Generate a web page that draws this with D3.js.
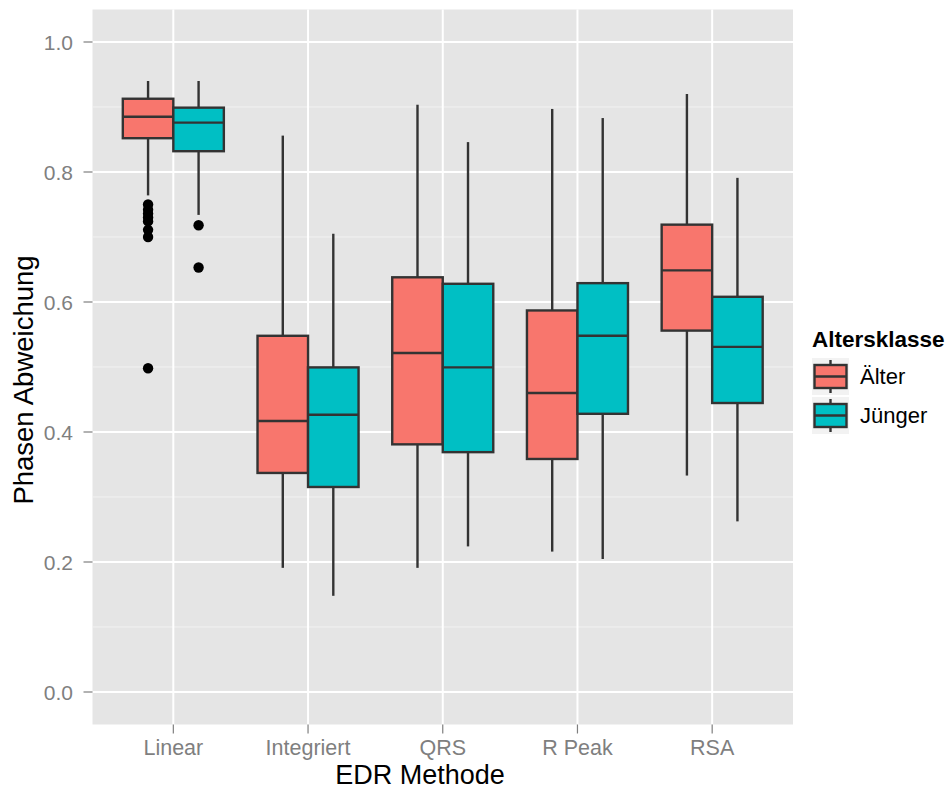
<!DOCTYPE html>
<html>
<head>
<meta charset="utf-8">
<script src="https://cdn.jsdelivr.net/npm/d3@7"></script>
<style>
  html, body { margin: 0; padding: 0; background: #ffffff; }
  svg { display: block; font-family: "Liberation Sans", Arial, Helvetica, sans-serif; }
</style>
</head>
<body>
<svg id="chart" width="949" height="789"></svg>
<script>
// EDR methods on the x axis, two age classes dodged within each
const categories = ["Linear", "Integriert", "QRS", "R Peak", "RSA"];
const groups = ["Älter", "Jünger"];
const groupColors = ["#F8766D", "#00BFC4"];

// Box statistics per method (lower whisker, Q1, median, Q3, upper whisker)
const alterLower  = [0.764, 0.191, 0.191, 0.216, 0.333];
const alterQ1     = [0.852, 0.337, 0.381, 0.3585, 0.556];
const alterMedian = [0.885, 0.417, 0.5215, 0.460, 0.6486];
const alterQ3     = [0.9127, 0.548, 0.638, 0.587, 0.719];
const alterUpper  = [0.940, 0.856, 0.9035, 0.897, 0.920];

const jungerLower  = [0.734, 0.148, 0.224, 0.2046, 0.2625];
const jungerQ1     = [0.832, 0.3154, 0.369, 0.428, 0.4446];
const jungerMedian = [0.876, 0.4266, 0.4994, 0.548, 0.531];
const jungerQ3     = [0.899, 0.4994, 0.628, 0.629, 0.608];
const jungerUpper  = [0.940, 0.705, 0.846, 0.883, 0.791];

// Outlying observations beyond the whiskers
const alterOutliers  = [[], [], [], [], []];
alterOutliers[0] = [0.750, 0.742, 0.736, 0.730, 0.724, 0.711, 0.700, 0.498];
const jungerOutliers = [[], [], [], [], []];
jungerOutliers[0] = [0.718, 0.653];

const yTicks = [0.0, 0.2, 0.4, 0.6, 0.8, 1.0];
const yMinorTicks = [0.1, 0.3, 0.5, 0.7, 0.9];

const boxes = [];
categories.forEach((c, i) => {
  boxes.push({cat: c, group: groups[0], color: groupColors[0],
    lo: alterLower[i], q1: alterQ1[i], med: alterMedian[i], q3: alterQ3[i], hi: alterUpper[i],
    out: alterOutliers[i]});
  boxes.push({cat: c, group: groups[1], color: groupColors[1],
    lo: jungerLower[i], q1: jungerQ1[i], med: jungerMedian[i], q3: jungerQ3[i], hi: jungerUpper[i],
    out: jungerOutliers[i]});
});

const panel = {left: 92.5, right: 793, top: 9.5, bottom: 724.5};
const svg = d3.select("#chart");

const x = d3.scaleBand().domain(categories)
  .range([panel.left, panel.right]).paddingInner(0).paddingOuter(0.1);
const step = x.step();
const xg = d3.scaleBand().domain(groups).range([-0.375 * step, 0.375 * step]).padding(0);
const y = d3.scaleLinear().domain([-0.05, 1.05]).range([panel.bottom, panel.top]);

const center = c => x(c) + x.bandwidth() / 2;

// panel background
svg.append("rect")
  .attr("x", panel.left).attr("y", panel.top)
  .attr("width", panel.right - panel.left).attr("height", panel.bottom - panel.top)
  .attr("fill", "#e5e5e5");

// grid
svg.append("g").selectAll("line").data(yMinorTicks).join("line")
  .attr("x1", panel.left).attr("x2", panel.right)
  .attr("y1", d => y(d)).attr("y2", d => y(d))
  .attr("stroke", "#f2f2f2").attr("stroke-width", 1);
svg.append("g").selectAll("line").data(yTicks).join("line")
  .attr("x1", panel.left).attr("x2", panel.right)
  .attr("y1", d => y(d)).attr("y2", d => y(d))
  .attr("stroke", "#ffffff").attr("stroke-width", 2);
svg.append("g").selectAll("line").data(categories).join("line")
  .attr("x1", d => center(d)).attr("x2", d => center(d))
  .attr("y1", panel.top).attr("y2", panel.bottom)
  .attr("stroke", "#ffffff").attr("stroke-width", 2);

// boxplots
const bw = xg.bandwidth();
const bx = d => center(d.cat) + xg(d.group);
const g = svg.append("g").selectAll("g").data(boxes).join("g");
const stroke = "#333333";
const lw = 2.4;
g.append("line")
  .attr("x1", d => bx(d) + bw / 2).attr("x2", d => bx(d) + bw / 2)
  .attr("y1", d => y(d.hi)).attr("y2", d => y(d.q3))
  .attr("stroke", stroke).attr("stroke-width", lw);
g.append("line")
  .attr("x1", d => bx(d) + bw / 2).attr("x2", d => bx(d) + bw / 2)
  .attr("y1", d => y(d.q1)).attr("y2", d => y(d.lo))
  .attr("stroke", stroke).attr("stroke-width", lw);
g.append("rect")
  .attr("x", d => bx(d)).attr("width", bw)
  .attr("y", d => y(d.q3)).attr("height", d => y(d.q1) - y(d.q3))
  .attr("fill", d => d.color).attr("stroke", stroke).attr("stroke-width", lw);
g.append("line")
  .attr("x1", d => bx(d)).attr("x2", d => bx(d) + bw)
  .attr("y1", d => y(d.med)).attr("y2", d => y(d.med))
  .attr("stroke", stroke).attr("stroke-width", lw);
g.selectAll("circle").data(d => d.out.map(v => ({v, cx: bx(d) + bw / 2}))).join("circle")
  .attr("cx", d => d.cx).attr("cy", d => y(d.v)).attr("r", 5.2)
  .attr("fill", "#000000");

// y axis
const yAxis = svg.append("g");
yAxis.selectAll("line").data(yTicks).join("line")
  .attr("x1", panel.left - 9).attr("x2", panel.left)
  .attr("y1", d => y(d)).attr("y2", d => y(d))
  .attr("stroke", "#7f7f7f").attr("stroke-width", 1.2);
yAxis.selectAll("text").data(yTicks).join("text")
  .attr("x", 73).attr("y", d => y(d)).attr("dy", "0.36em")
  .attr("text-anchor", "end").attr("font-size", 21).attr("fill", "#7f7f7f")
  .text(d => d3.format(".1f")(d));

// x axis
const xAxis = svg.append("g");
xAxis.selectAll("line").data(categories).join("line")
  .attr("x1", d => center(d)).attr("x2", d => center(d))
  .attr("y1", panel.bottom).attr("y2", panel.bottom + 9)
  .attr("stroke", "#7f7f7f").attr("stroke-width", 1.2);
xAxis.selectAll("text").data(categories).join("text")
  .attr("x", d => center(d)).attr("y", 755)
  .attr("text-anchor", "middle").attr("font-size", 21.5).attr("fill", "#7f7f7f")
  .text(d => d);

// axis titles
svg.append("text").attr("x", 420).attr("y", 784)
  .attr("text-anchor", "middle").attr("font-size", 27).attr("fill", "#000")
  .text("EDR Methode");
svg.append("text").attr("transform", "translate(33,380) rotate(-90)")
  .attr("text-anchor", "middle").attr("font-size", 27.5).attr("fill", "#000")
  .text("Phasen Abweichung");

// legend
const legend = svg.append("g");
legend.append("text").attr("x", 812).attr("y", 347)
  .attr("font-size", 22.5).attr("font-weight", "bold").attr("fill", "#000")
  .text("Altersklasse");
const keySize = 37;
const key = legend.selectAll("g.key").data(groups).join("g").attr("class", "key")
  .attr("transform", (d, i) => `translate(812,${358 + i * (keySize + 2)})`);
key.append("rect").attr("width", keySize).attr("height", keySize).attr("fill", "#f2f2f2");
key.append("line").attr("x1", keySize / 2).attr("x2", keySize / 2)
  .attr("y1", 2).attr("y2", keySize - 2)
  .attr("stroke", stroke).attr("stroke-width", lw);
key.append("rect").attr("x", 2.5).attr("y", 7).attr("width", keySize - 5).attr("height", keySize - 14)
  .attr("fill", (d, i) => groupColors[i]).attr("stroke", stroke).attr("stroke-width", lw);
key.append("line").attr("x1", 2.5).attr("x2", keySize - 2.5)
  .attr("y1", keySize / 2).attr("y2", keySize / 2)
  .attr("stroke", stroke).attr("stroke-width", lw);
key.append("text").attr("x", 48).attr("y", keySize / 2).attr("dy", "0.36em")
  .attr("font-size", 22).attr("fill", "#000")
  .text(d => d);
</script>
</body>
</html>
